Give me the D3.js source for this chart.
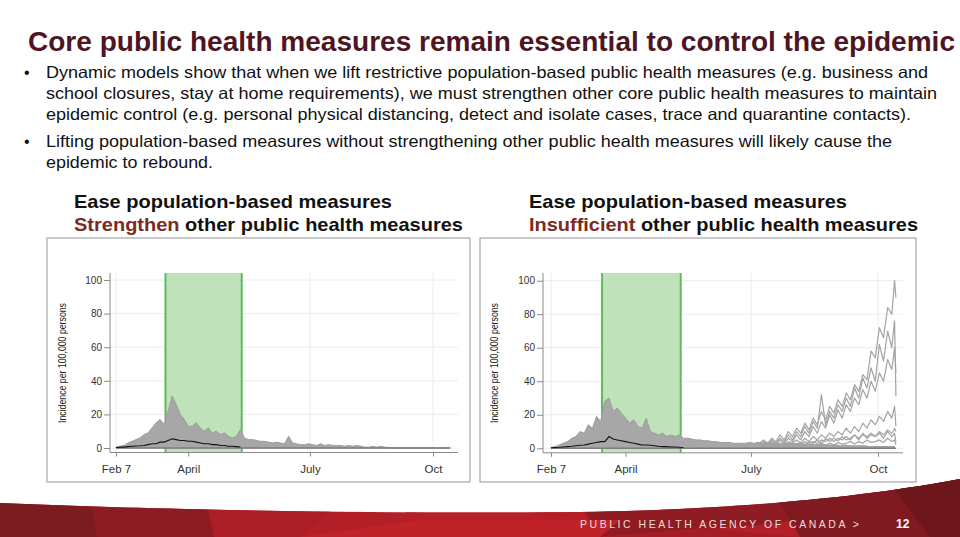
<!doctype html>
<html lang="en">
<head>
<meta charset="utf-8">
<script src="https://cdnjs.cloudflare.com/ajax/libs/d3/7.8.5/d3.min.js"></script>
<style>
  body { margin: 0; background: #fff; }
  svg { display: block; font-family: "Liberation Sans", Arial, sans-serif; }
  .tick text { fill: #333; }
</style>
</head>
<body>
<script>

// ---- data (days counted from Feb 7 2020, sampled every 3 days) ----
const tickLabels = ["Feb 7", "April", "July", "Oct"];
const tickDates = [new Date(2020, 1, 7), new Date(2020, 3, 1), new Date(2020, 6, 1), new Date(2020, 9, 1)];
const yTicks = [0, 20, 40, 60, 80, 100];
const easeStart = new Date(2020, 2, 15);
const easeEnd = new Date(2020, 4, 11);

// upper edge of the grey bundle of simulations
const leftEnvelope = [0.5, 1, 1.5, 3, 4, 5, 6, 8, 9, 12, 15, 17, 14, 22, 31, 26, 20, 17, 13, 13,
  15, 12, 10, 12, 9, 10, 8, 9, 7, 6, 7, 11, 6, 5, 5, 4.5, 4, 4, 3.5, 3,
  3.5, 3, 2.5, 7, 3, 2.5, 2, 2, 2.5, 2, 1.5, 2.5, 1.5, 2, 1.5, 1.5, 1.5, 1, 1.5, 1,
  1.5, 1, 0.5, 0.5, 1, 0.5, 1, 0.5, 0.3, 0, 0, 0, 0, 0, 0, 0, 0, 0, 0, 0,
  0, 0, 0, 0];
const rightEnvelope = [0.5, 1, 2, 3, 4, 6, 7, 10, 9, 14, 12, 19, 16, 28, 30, 22, 24, 21, 18, 15,
  17, 13, 12, 18, 10, 9, 8, 9, 7, 8, 7, 8, 6, 6, 5.5, 5, 5, 4.5, 4.5, 4,
  4, 3.5, 3.5, 3.5, 3, 3, 3, 3, 3.5, 3, 3.5, 3, 3.5, 3, 3.5, 3, 3, 3, 3, 2.5,
  3, 2.5, 2.5, 2.5, 2, 2.5, 2, 2, 2, 2, 1.5, 2, 1.5, 1.5, 1.5, 1.5, 1.5, 1, 1, 1,
  1, 1, 1, 1];

// median run (black)
const leftMedian = [0.3, 0.5, 0.5, 0.8, 1, 1.2, 1.3, 1.5, 2, 2.5, 2.5, 3.5, 3.5, 4.5, 5.5, 5, 4.5, 4.5, 4, 4,
  3.5, 3, 2.5, 2.5, 2, 2, 1.5, 1.5, 1, 1, 0.8, 0.6];
const rightMedian = [0.3, 0.5, 0.6, 0.8, 1, 1.2, 1.5, 1.8, 2, 2.5, 3, 3.5, 4, 4, 7, 5.5, 5, 4.5, 4, 3.5,
  3, 2.5, 2, 2, 1.8, 1.5, 1.2, 1, 1, 0.8, 0.8, 0.6, 0.5];

// rebound runs in the "insufficient" scenario
const growthDays = [151, 154, 157, 160, 163, 166, 169, 172, 175, 178, 181, 184, 187, 190, 193, 196, 199, 202,
  205, 208, 211, 214, 217, 220, 223, 226, 229, 232, 235, 238, 241, 244, 247, 249, 250];
const runA = [3, 5, 3, 6, 4, 8, 5, 10, 7, 12, 9, 15, 11, 18, 14, 22, 17, 25, 21, 29, 25, 33, 29, 38, 34, 44, 41, 58, 54, 72, 66, 84, 80, 100, 90];
const runB = [2, 4, 2, 5, 3, 6, 4, 8, 5, 10, 7, 13, 9, 16, 12, 32, 14, 22, 18, 26, 22, 30, 25, 36, 30, 42, 36, 48, 40, 62, 52, 70, 60, 76, 31];
const runC = [1, 3, 2, 4, 2, 5, 3, 6, 4, 8, 5, 10, 7, 13, 9, 16, 12, 20, 15, 23, 18, 26, 22, 30, 26, 35, 30, 40, 34, 45, 40, 53, 47, 60, 45];
const runD = [1, 2, 1, 3, 2, 3, 2, 4, 3, 5, 3, 6, 4, 7, 5, 8, 6, 9, 7, 10, 8, 12, 9, 13, 10, 15, 12, 17, 14, 19, 16, 22, 18, 25, 13];
const runE = [0.5, 1, 1, 2, 1, 2, 1.5, 3, 2, 3, 2, 4, 3, 4, 3, 5, 4, 6, 4, 6, 5, 7, 5, 8, 6, 8, 7, 9, 7, 10, 8, 11, 9, 12, 10];
const runF = [1, 0.5, 1.5, 1, 2, 1, 2.5, 1.5, 3, 2, 3.5, 2, 4, 3, 5, 3, 5.5, 4, 6, 4.5, 7, 5, 6, 8, 5, 9, 6, 8, 7, 9, 6, 10, 7, 9, 4];
const runG = [0.5, 1, 0.5, 1, 1.5, 1, 1.5, 1, 2, 1, 2, 1.5, 2.5, 1.5, 2, 3, 2, 3, 2, 3.5, 2.5, 3, 4, 2.5, 4, 3, 5, 3.5, 4, 5, 3.5, 6, 4, 5, 2];

const lastDay = 250;

// ---- helpers ----
const W = 960, H = 537;
const day = d => new Date(2020, 1, 7 + d);

const svg = d3.select("body").append("svg")
  .attr("width", W)
  .attr("height", H);

svg.append("rect").attr("width", W).attr("height", H).attr("fill", "#fff");

// Title
svg.append("text")
  .attr("x", 28).attr("y", 51)
  .attr("font-size", 27).attr("font-weight", "bold")
  .attr("fill", "#4e1522")
  .attr("textLength", 927).attr("lengthAdjust", "spacingAndGlyphs")
  .text("Core public health measures remain essential to control the epidemic");

// Bullets
const bulletLines = [
  { y: 78, w: 882, t: "Dynamic models show that when we lift restrictive population-based public health measures (e.g. business and", dot: true },
  { y: 99, w: 891, t: "school closures, stay at home requirements), we must strengthen other core public health measures to maintain" },
  { y: 120, w: 865, t: "epidemic control (e.g. personal physical distancing, detect and isolate cases, trace and quarantine contacts)." },
  { y: 147, w: 846, t: "Lifting population-based measures without strengthening other public health measures will likely cause the", dot: true },
  { y: 168, w: 167, t: "epidemic to rebound." }
];
bulletLines.forEach(l => {
  if (l.dot) {
    svg.append("text").attr("x", 24).attr("y", l.y).attr("font-size", 16).attr("fill", "#111").text("•");
  }
  svg.append("text")
    .attr("x", 46).attr("y", l.y)
    .attr("font-size", 16.5).attr("fill", "#111")
    .attr("textLength", l.w).attr("lengthAdjust", "spacingAndGlyphs")
    .text(l.t);
});

// ---- one panel ----
function drawPanel(p) {
  const g = svg.append("g");

  // subtitle
  g.append("text")
    .attr("x", p.subX).attr("y", 208)
    .attr("font-size", 18.5).attr("font-weight", "bold").attr("fill", "#111")
    .attr("textLength", 318).attr("lengthAdjust", "spacingAndGlyphs")
    .text("Ease population-based measures");
  const st = g.append("text")
    .attr("x", p.subX).attr("y", 231)
    .attr("font-size", 18.5).attr("font-weight", "bold").attr("fill", "#111")
    .attr("textLength", p.subW).attr("lengthAdjust", "spacingAndGlyphs");
  st.append("tspan").attr("fill", "#7b2a24").text(p.keyword);
  st.append("tspan").text(" other public health measures");

  // frame
  g.append("rect")
    .attr("x", p.box[0]).attr("y", 238)
    .attr("width", p.box[1] - p.box[0]).attr("height", 244)
    .attr("fill", "#fff").attr("stroke", "#a6a6a6").attr("stroke-width", 1.2);

  const x = d3.scaleTime().domain([tickDates[0], tickDates[3]]).range([p.x0, p.x1]);
  const y = d3.scaleLinear().domain([0, 100]).range([p.yZero, p.yHundred]);
  const top = 273, axisY = p.yZero + 4.5;

  // grid
  g.selectAll(".hg").data(yTicks).join("line")
    .attr("x1", p.axisX).attr("x2", p.right)
    .attr("y1", d => y(d)).attr("y2", d => y(d))
    .attr("stroke", "#ececec").attr("stroke-width", 1);
  g.selectAll(".vg").data(tickDates).join("line")
    .attr("x1", d => x(d)).attr("x2", d => x(d))
    .attr("y1", top).attr("y2", axisY)
    .attr("stroke", "#ececec").attr("stroke-width", 1);

  // easing period
  g.append("rect")
    .attr("x", x(easeStart)).attr("y", top)
    .attr("width", x(easeEnd) - x(easeStart)).attr("height", axisY - top)
    .attr("fill", "#bfe2bb");
  g.selectAll(".edge").data([easeStart, easeEnd]).join("line")
    .attr("x1", d => x(d)).attr("x2", d => x(d))
    .attr("y1", top).attr("y2", axisY)
    .attr("stroke", "#5fba5f").attr("stroke-width", 2);

  // simulations bundle
  const env = p.envelope.map((v, i) => [day(i * 3), v]);
  g.append("path")
    .datum(env)
    .attr("fill", "#a7a7a7")
    .attr("stroke", "#9c9c9c").attr("stroke-width", 1)
    .attr("d", d3.area().x(d => x(d[0])).y0(y(0)).y1(d => y(d[1])));

  const line = d3.line().x(d => x(d[0])).y(d => y(d[1]));

  p.runs.forEach(r => {
    g.append("path")
      .datum(r.map((v, i) => [day(growthDays[i]), v]))
      .attr("fill", "none").attr("stroke", "#a3a3a3").attr("stroke-width", 1.2)
      .attr("stroke-linejoin", "round")
      .attr("d", line);
  });

  // zero line of finished runs
  g.append("path")
    .datum([[day(0), 0], [day(lastDay), 0]])
    .attr("fill", "none").attr("stroke", "#7d7d7d").attr("stroke-width", 1.6)
    .attr("d", line);

  // median
  g.append("path")
    .datum(p.median.map((v, i) => [day(i * 3), v]))
    .attr("fill", "none").attr("stroke", "#111").attr("stroke-width", 1.1)
    .attr("d", line);

  // axes
  g.append("line")
    .attr("x1", p.axisX).attr("x2", p.axisX).attr("y1", top).attr("y2", axisY)
    .attr("stroke", "#8a8a8a");
  g.append("line")
    .attr("x1", p.axisX).attr("x2", p.right).attr("y1", axisY).attr("y2", axisY)
    .attr("stroke", "#8a8a8a");

  const ya = g.append("g")
    .attr("transform", "translate(" + p.axisX + ",0)")
    .call(d3.axisLeft(y).tickValues(yTicks).tickSize(6).tickPadding(2));
  ya.select(".domain").remove();
  ya.selectAll("line").attr("stroke", "#8a8a8a");
  ya.selectAll("text").attr("font-size", 10).attr("font-family", "Liberation Sans, Arial, sans-serif");

  const xa = g.append("g")
    .attr("transform", "translate(0," + axisY + ")")
    .call(d3.axisBottom(x).tickValues(tickDates).tickSize(4).tickPadding(8)
      .tickFormat((d, i) => tickLabels[i]));
  xa.select(".domain").remove();
  xa.selectAll("line").attr("stroke", "#8a8a8a");
  xa.selectAll("text").attr("font-size", 11.5).attr("fill", "#111")
    .attr("font-family", "Liberation Sans, Arial, sans-serif");

  g.append("text")
    .attr("transform", "translate(" + p.titleX + "," + 363 + ") rotate(-90)")
    .attr("text-anchor", "middle")
    .attr("font-size", 10).attr("fill", "#222")
    .attr("textLength", 120).attr("lengthAdjust", "spacingAndGlyphs")
    .text("Incidence per 100,000 persons");
}

drawPanel({
  subX: 74, subW: 389, keyword: "Strengthen",
  box: [47, 470], x0: 116, x1: 433, axisX: 110, right: 458,
  yZero: 448, yHundred: 280, titleX: 66,
  envelope: leftEnvelope, median: leftMedian, runs: []
});

drawPanel({
  subX: 529, subW: 389, keyword: "Insufficient",
  box: [480, 916], x0: 551, x1: 878, axisX: 543, right: 903,
  yZero: 448.3, yHundred: 280.7, titleX: 498,
  envelope: rightEnvelope, median: rightMedian,
  runs: [runG, runF, runE, runD, runC, runB, runA]
});

// ---- footer banner ----
const defs = svg.append("defs");
const bannerTop = "M0,503 C160,510 400,514 580,512 C760,509 880,494 960,479 L960,537 L0,537 Z";
defs.append("clipPath").attr("id", "banner").append("path").attr("d", bannerTop);

const banner = svg.append("g").attr("clip-path", "url(#banner)");
const shards = [
  { pts: "0,470 960,470 960,537 0,537", c: "#b31f27" },
  { pts: "0,470 84,470 98,537 0,537", c: "#7c1b20" },
  { pts: "84,470 200,470 214,537 98,537", c: "#8c1c21" },
  { pts: "214,537 200,470 380,470 300,537", c: "#ac1e25" },
  { pts: "380,470 560,470 600,537 420,537", c: "#b71f27" },
  { pts: "560,470 960,470 960,500 760,525 600,537", c: "#8e1c22" },
  { pts: "760,470 960,470 960,537 800,537", c: "#7f1a20" },
  { pts: "880,470 960,470 960,537 930,537", c: "#6d161c" },
  { pts: "300,537 420,520 620,520 600,537", c: "#c0222a" },
  { pts: "600,537 700,528 800,537", c: "#a51d24" }
];
banner.selectAll("polygon").data(shards).join("polygon")
  .attr("points", d => d.pts)
  .attr("fill", d => d.c);

svg.append("text")
  .attr("x", 580).attr("y", 528)
  .attr("font-size", 10.5).attr("fill", "#f2dcdc")
  .attr("letter-spacing", 3)
  .attr("textLength", 282).attr("lengthAdjust", "spacing")
  .text("PUBLIC HEALTH AGENCY OF CANADA >");
svg.append("text")
  .attr("x", 896).attr("y", 528)
  .attr("font-size", 12).attr("font-weight", "bold").attr("fill", "#fff")
  .text("12");

</script>
</body>
</html>
